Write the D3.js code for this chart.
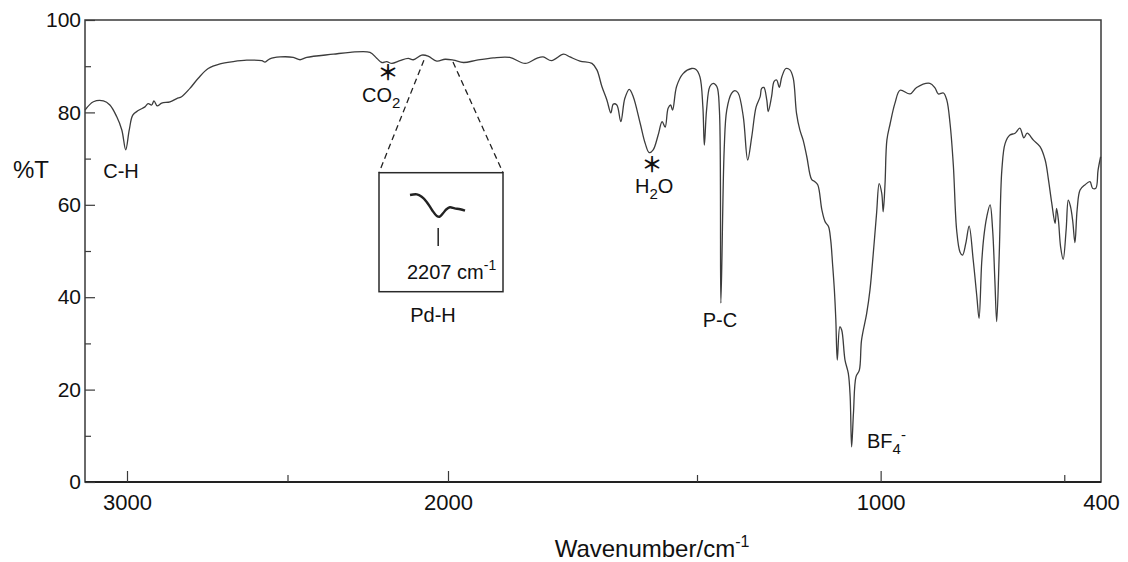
<!DOCTYPE html>
<html>
<head>
<meta charset="utf-8">
<script src="https://cdn.jsdelivr.net/npm/d3@7"></script>
<style>
  html, body { margin: 0; padding: 0; background: #ffffff; }
  svg { display: block; }
  text { font-family: "Liberation Sans", Arial, Helvetica, sans-serif; fill: #111; }
</style>
</head>
<body>
<svg id="chart" width="1128" height="562"></svg>
<script>
// ---------------- DATA ----------------
const wavenumber = [3130,3104,3073,3053,3032,3016,3004,2993,2982,2965,
  2944,2934,2923,2916,2906,2892,2866,2845,2830,2804,
  2778,2747,2710,2669,2627,2580,2570,2555,2523,2482,
  2461,2440,2357,2305,2243,2222,2206,2191,2175,2150,
  2124,2108,2082,2062,2035,2009,1989,1969,1942,1909,
  1876,1845,1822,1809,1792,1768,1755,1735,1711,1701,
  1691,1681,1673,1668,1661,1653,1645,1636,1628,1614,
  1604,1596,1588,1578,1570,1564,1558,1553,1549,1541,
  1528,1511,1502,1492,1484,1480,1474,1465,1456,1446,
  1439,1435,1426,1419,1406,1397,1388,1374,1362,1351,
  1339,1328,1324,1318,1310,1306,1297,1290,1283,1276,
  1269,1258,1247,1238,1229,1220,1211,1201,1188,1179,
  1171,1160,1151,1142,1136,1131,1126,1122,1118,1111,
  1106,1097,1088,1083,1079,1074,1067,1058,1052,1038,
  1029,1020,1011,1004,997,993,988,983,974,961,
  947,920,902,866,852,843,829,820,811,802,
  793,784,777,768,759,748,738,732,725,719,
  711,702,695,689,684,677,670,661,648,634,
  621,610,601,584,566,552,543,534,525,521,
  516,510,503,495,489,483,477,471,465,457,
  444,430,423,414,408,401];

const transmittance = [80.5,82.3,82.5,81.6,79.1,76.2,71.9,76.2,79.4,80.4,
  81.2,81.9,81.6,82.5,81.4,82.0,82.3,83.0,83.4,85.2,
  87.4,89.5,90.5,91.0,91.3,91.2,90.9,91.6,92.0,91.9,
  91.4,91.9,92.6,93.0,93.0,91.7,90.8,91.0,90.6,91.2,
  91.7,91.4,92.4,92.2,91.1,91.5,91.3,90.8,91.3,91.8,
  91.9,90.6,91.7,92.0,91.2,92.6,92.0,91.1,90.6,89.2,
  85.6,82.7,79.9,81.8,81.6,78.0,83.0,85.0,83.4,77.6,
  73.3,71.3,71.9,75.1,78.0,76.8,80.9,81.6,80.5,85.6,
  88.4,89.5,89.3,87.7,81.2,72.9,80.5,85.6,86.3,85.6,
  80.5,38.7,71.9,80.5,84.1,84.7,84.2,79.1,69.7,74.7,
  81.2,83.4,85.2,85.4,82.7,80.2,83.4,86.7,87.0,85.4,
  87.7,89.5,89.2,87.4,79.8,76.2,74.0,70.4,65.5,65.0,
  64.3,58.9,56.3,55.3,52.4,47.3,41.6,35.1,26.4,33.6,
  32.9,26.4,23.5,18.5,7.6,14.9,22.8,24.2,30.7,36.5,
  41.6,49.5,58.2,64.6,62.5,58.5,64.6,74.0,77.6,82.0,
  84.8,84.0,85.4,86.3,85.3,84.0,84.2,82.7,77.6,68.5,
  54.5,49.8,49.1,51.7,55.4,48.1,40.1,35.4,47.3,53.1,
  57.4,60.0,54.5,43.7,34.7,49.5,67.5,73.3,75.1,75.5,
  76.6,74.5,75.5,74.0,72.6,69.7,65.4,60.3,56.0,59.2,
  56.7,50.9,48.2,54.5,61.0,59.6,56.5,51.8,58.9,63.2,
  64.3,65.0,63.6,63.6,67.5,70.4];

// inset (Pd-H region, expanded)
const insetWavenumber = [2248,2238,2231,2224,2216,2209,2205,2200,2195,2190,2183,2175,2168];
const insetTransmittance = [92.25,92.30,92.12,91.75,91.13,90.68,90.62,90.88,91.18,91.33,91.25,91.18,91.07];
const insetMarker = 2207;

// axis tick values / labels
const xAxisBreaks = [3130, 3000, 2000, 1500, 400];     // axis of the figure is piecewise
const xMajorTicks = [3000, 2000, 1000];
const xMinorTicks = [2500, 1500, 500];
const xEndLabel = [400];
const yMajorTicks = [0, 20, 40, 60, 80, 100];
const yMinorTicks = [10, 30, 50, 70, 90];
const zoomWindow = [2075, 1990];   // region expanded in the inset

// ---------------- LAYOUT ----------------
const margin = {left: 85, top: 20};
const W = 1016, H = 462;
const svg = d3.select("#chart");
svg.append("rect").attr("width", 1128).attr("height", 562).attr("fill", "#fff");
const g = svg.append("g").attr("transform", `translate(${margin.left},${margin.top})`);

const breakFrac = [0, 42/1016, 363/1016, 612/1016, 1];
const x = d3.scaleLinear().domain(xAxisBreaks).range(breakFrac.map(f => f * W));
const y = d3.scaleLinear().domain([0, 100]).range([H, 0]);

// frame
g.append("rect").attr("x", 0).attr("y", 0).attr("width", W).attr("height", H)
  .attr("fill", "none").attr("stroke", "#3a3a3a").attr("stroke-width", 1.5);
g.append("line").attr("x1", 0).attr("x2", W).attr("y1", H).attr("y2", H)
  .attr("stroke", "#222").attr("stroke-width", 2);

// y axis
const yMajor = g.append("g").call(d3.axisLeft(y).tickValues(yMajorTicks).tickSizeInner(-10).tickSizeOuter(0).tickPadding(4).tickFormat(d3.format("d")));
const yMinor = g.append("g").call(d3.axisLeft(y).tickValues(yMinorTicks).tickSizeInner(-6).tickSizeOuter(0).tickFormat(""));
[yMajor, yMinor].forEach(a => { a.select(".domain").remove(); a.selectAll("line").attr("stroke", "#3a3a3a").attr("stroke-width", 1.2); });
yMajor.selectAll("text").attr("font-size", 21).attr("fill", "#111")
  .style("font-family", '"Liberation Sans", Arial, sans-serif');

// x axis
const xMajor = g.append("g").attr("transform", `translate(0,${H})`)
  .call(d3.axisBottom(x).tickValues(xMajorTicks).tickSizeInner(-11).tickSizeOuter(0).tickPadding(12).tickFormat(d3.format("d")));
const xMinor = g.append("g").attr("transform", `translate(0,${H})`)
  .call(d3.axisBottom(x).tickValues(xMinorTicks).tickSizeInner(-7).tickSizeOuter(0).tickFormat(""));
const xEnd = g.append("g").attr("transform", `translate(0,${H})`)
  .call(d3.axisBottom(x).tickValues(xEndLabel).tickSize(0).tickPadding(12).tickFormat(d3.format("d")));
[xMajor, xMinor, xEnd].forEach(a => { a.select(".domain").remove(); a.selectAll("line").attr("stroke", "#3a3a3a").attr("stroke-width", 1.2); });
[xMajor, xEnd].forEach(a => a.selectAll("text").attr("font-size", 22).attr("fill", "#111")
  .style("font-family", '"Liberation Sans", Arial, sans-serif'));

// axis titles
svg.append("text").attr("x", 13).attr("y", 178).attr("font-size", 24).text("%T");
const xt = svg.append("text").attr("x", 652).attr("y", 557).attr("text-anchor", "middle").attr("font-size", 24);
xt.append("tspan").text("Wavenumber/cm");
xt.append("tspan").attr("dy", -10).attr("font-size", 16).text("-1");

// spectrum
const pts = wavenumber.map((w, i) => [w, transmittance[i]]);
g.append("path").datum(pts)
  .attr("fill", "none").attr("stroke", "#3c3c3c").attr("stroke-width", 1.3).attr("stroke-linejoin", "round")
  .attr("d", d3.line().x(d => x(d[0])).y(d => y(d[1])).curve(d3.curveCatmullRom.alpha(0.5)));

// inset box
const box = {x: 294, y: 152.7, w: 124, h: 119};
g.append("rect").attr("x", box.x).attr("y", box.y).attr("width", box.w).attr("height", box.h)
  .attr("fill", "none").attr("stroke", "#2a2a2a").attr("stroke-width", 1.5);
// dashed connectors
g.append("line").attr("x1", x(zoomWindow[0])).attr("y1", y(91.3)).attr("x2", box.x).attr("y2", box.y)
  .attr("stroke", "#222").attr("stroke-width", 1.3).attr("stroke-dasharray", "6,4");
g.append("line").attr("x1", x(zoomWindow[1])).attr("y1", y(90.9)).attr("x2", box.x + box.w).attr("y2", box.y)
  .attr("stroke", "#222").attr("stroke-width", 1.3).attr("stroke-dasharray", "6,4");

const ix = d3.scaleLinear().domain([2248, 2168]).range([box.x + 31, box.x + 86]);
const iy = d3.scaleLinear().domain([90, 93]).range([box.y + 52.3, box.y + 12.3]);
g.append("path").datum(insetWavenumber.map((w, i) => [w, insetTransmittance[i]]))
  .attr("fill", "none").attr("stroke", "#222").attr("stroke-width", 2.4).attr("stroke-linejoin", "round")
  .attr("d", d3.line().x(d => ix(d[0])).y(d => iy(d[1])).curve(d3.curveCatmullRom.alpha(0.5)));
g.append("line").attr("x1", ix(insetMarker)).attr("x2", ix(insetMarker))
  .attr("y1", box.y + 55.3).attr("y2", box.y + 73.3).attr("stroke", "#222").attr("stroke-width", 1.5);
const it = g.append("text").attr("x", box.x + 28).attr("y", box.y + 106.3).attr("font-size", 20);
it.append("tspan").text(insetMarker + " cm");
it.append("tspan").attr("dy", -9).attr("font-size", 14).text("-1");
g.append("text").attr("x", box.x + 54).attr("y", 302).attr("text-anchor", "middle").attr("font-size", 20).text("Pd-H");

// annotations
g.append("text").attr("x", 36).attr("y", 158).attr("text-anchor", "middle").attr("font-size", 20).text("C-H");

// starred labels: asterisk set in a compact glyph so it stays clear of the formula below
function star(cx, cy) {
  g.append("text").attr("x", cx).attr("y", cy + 8).attr("text-anchor", "middle")
    .style("font-family", '"Noto Sans CJK JP", "Noto Sans CJK SC", sans-serif')
    .attr("font-size", 21).attr("font-weight", "bold").text("\uFF0A");
}
star(303, 52);
const co2 = g.append("text").attr("x", 277).attr("y", 82).attr("font-size", 20);
co2.append("tspan").text("CO");
co2.append("tspan").attr("dy", 6).attr("font-size", 15).text("2");

star(567, 144);
const h2o = g.append("text").attr("x", 550).attr("y", 173).attr("font-size", 20);
h2o.append("tspan").text("H");
h2o.append("tspan").attr("dy", 6).attr("font-size", 15).text("2");
h2o.append("tspan").attr("dy", -6).text("O");

g.append("text").attr("x", 635).attr("y", 307).attr("text-anchor", "middle").attr("font-size", 20).text("P-C");

const bf = g.append("text").attr("x", 782).attr("y", 428).attr("font-size", 20);
bf.append("tspan").text("BF");
bf.append("tspan").attr("dy", 6).attr("font-size", 15).text("4");
bf.append("tspan").attr("dy", -14).attr("font-size", 15).text("-");
</script>
</body>
</html>
